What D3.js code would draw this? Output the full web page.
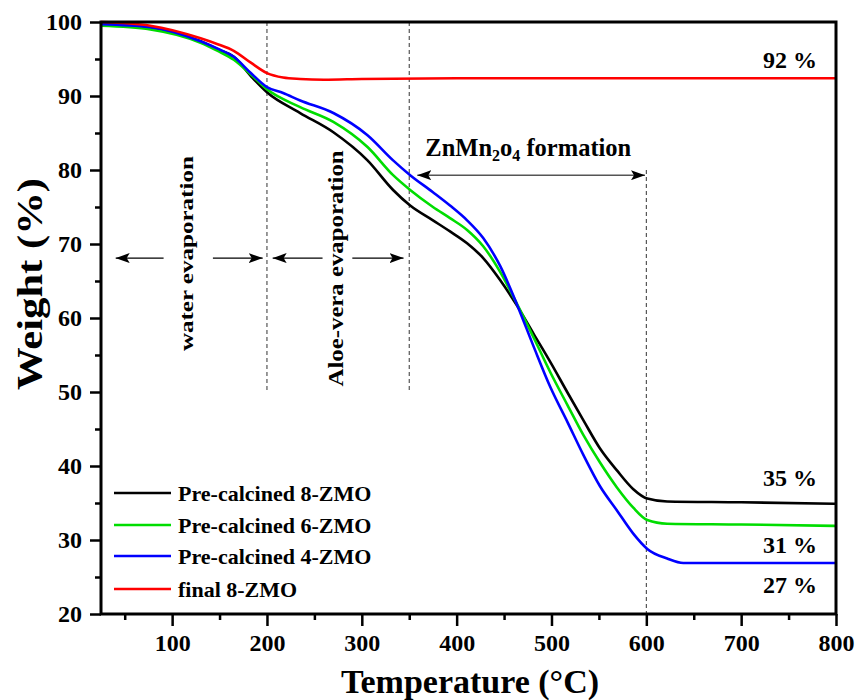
<!DOCTYPE html>
<html>
<head>
<meta charset="utf-8">
<script src="https://cdn.jsdelivr.net/npm/d3@7"></script>
<style>
  body { margin: 0; background: #fff; }
  svg { display: block; font-family: "Liberation Serif", "Times New Roman", serif; font-weight: bold; }
</style>
</head>
<body>
<svg id="chart" width="858" height="700"></svg>
<script>
// ---- data ----
const seriesNames = ["Pre-calcined 8-ZMO", "Pre-calcined 6-ZMO", "Pre-calcined 4-ZMO", "final 8-ZMO"];
const seriesColors = ["#000000", "#00dd00", "#0000ff", "#ff0000"];

const temp8 = [25, 77, 130, 148, 165, 183, 200, 235, 270, 306, 333, 351, 375, 393, 411, 428, 446, 464, 481, 499, 517, 534, 551, 569, 586, 601, 622, 700, 800];
const weight8 = [99.8, 99.2, 97.4, 96.3, 95.3, 92.7, 90.5, 87.7, 85.1, 81.3, 77.3, 75.2, 73.2, 71.7, 70.1, 68.1, 65.1, 61.6, 57.9, 54.0, 49.9, 46.1, 42.4, 39.4, 36.9, 35.6, 35.2, 35.1, 34.9];

const temp6 = [25, 77, 130, 148, 165, 183, 200, 235, 270, 306, 333, 351, 375, 393, 411, 428, 446, 464, 481, 499, 517, 534, 551, 569, 586, 601, 622, 700, 800];
const weight6 = [99.5, 99.0, 97.2, 96.1, 94.9, 92.9, 90.9, 88.5, 86.5, 83.1, 79.3, 77.3, 75.0, 73.5, 71.9, 69.7, 66.2, 61.8, 57.4, 52.6, 48.2, 44.1, 40.5, 37.1, 34.4, 32.7, 32.2, 32.1, 31.9];

const temp4 = [25, 77, 130, 148, 165, 183, 200, 217, 235, 270, 306, 333, 351, 375, 393, 411, 428, 446, 464, 481, 499, 517, 534, 551, 569, 586, 601, 622, 639, 700, 800];
const weight4 = [99.7, 99.3, 97.4, 96.4, 95.3, 93.1, 91.2, 90.4, 89.4, 87.7, 84.7, 81.3, 79.3, 77.0, 75.2, 73.2, 70.8, 67.0, 61.7, 56.2, 50.6, 45.9, 41.4, 37.3, 34.0, 30.9, 28.8, 27.5, 26.9, 26.9, 26.9];

const tempF = [25, 77, 130, 148, 165, 183, 200, 217, 235, 260, 300, 400, 600, 800];
const weightF = [100, 99.5, 97.8, 97.0, 96.1, 94.5, 93.1, 92.5, 92.3, 92.2, 92.3, 92.4, 92.4, 92.4];

const xTicks = [100, 200, 300, 400, 500, 600, 700, 800];
const xMinorTicks = [50, 150, 250, 350, 450, 550, 650, 750];
const yTicks = [20, 30, 40, 50, 60, 70, 80, 90, 100];
const yMinorTicks = [25, 35, 45, 55, 65, 75, 85, 95];

const finalLabels = ["92 %", "35 %", "31 %", "27 %"];
const finalLabelY = [93.8, 37.3, 28.3, 22.9];

// ---- layout ----
const svg = d3.select("#chart");
const L = 101, R = 836, T = 22, B = 614;
const x = d3.scaleLinear().domain([25, 800]).range([L, R]);
const y = d3.scaleLinear().domain([20, 100]).range([B, T]);

const defs = svg.append("defs");
defs.append("marker").attr("id", "ah").attr("viewBox", "0 0 14 10")
  .attr("refX", 14).attr("refY", 5).attr("markerWidth", 14).attr("markerHeight", 10)
  .attr("markerUnits", "userSpaceOnUse").attr("orient", "auto-start-reverse")
  .append("path").attr("d", "M0,0 L14,5 L0,10 L3,5 Z").attr("fill", "#000");

// dashed vertical lines
const dashed = [[200, 100, 50], [350, 100, 50], [600, 80, 20]];
svg.selectAll("line.dash").data(dashed).enter().append("line")
  .attr("x1", d => x(d[0])).attr("x2", d => x(d[0]))
  .attr("y1", d => y(d[1])).attr("y2", d => y(d[2]))
  .attr("stroke", "#333").attr("stroke-width", 1).attr("stroke-dasharray", "4,3");

// arrows
const arrows = [[91, 40.5, 68.1], [143, 195.5, 68.1], [258.6, 206, 68.1], [290, 344, 68.1]];
svg.selectAll("line.arrow").data(arrows).enter().append("line")
  .attr("x1", d => x(d[0])).attr("x2", d => x(d[1]))
  .attr("y1", d => y(d[2])).attr("y2", d => y(d[2]))
  .attr("stroke", "#000").attr("stroke-width", 1.2).attr("marker-end", "url(#ah)");
svg.append("line")
  .attr("x1", x(358.5)).attr("x2", x(598.6)).attr("y1", y(79.3)).attr("y2", y(79.3))
  .attr("stroke", "#555").attr("stroke-width", 1.5)
  .attr("marker-start", "url(#ah)").attr("marker-end", "url(#ah)");

// curves
const line = d3.line().x(d => x(d[0])).y(d => y(d[1])).curve(d3.curveMonotoneX);
const series = [
  d3.zip(temp8, weight8), d3.zip(temp6, weight6), d3.zip(temp4, weight4), d3.zip(tempF, weightF)
];
svg.selectAll("path.curve").data(series).enter().append("path")
  .attr("d", line).attr("fill", "none")
  .attr("stroke", (d, i) => seriesColors[i]).attr("stroke-width", 2.6);

// axes
svg.append("g").attr("transform", `translate(0,${B})`)
  .call(d3.axisBottom(x).tickValues(xTicks).tickSize(12).tickPadding(8).tickFormat(d3.format("d")));
svg.append("g").attr("transform", `translate(0,${B})`)
  .call(d3.axisBottom(x).tickValues(xMinorTicks).tickSize(6).tickFormat(""));
svg.append("g").attr("transform", `translate(${L},0)`)
  .call(d3.axisLeft(y).tickValues(yTicks).tickSize(11).tickPadding(8).tickFormat(d3.format("d")));
svg.append("g").attr("transform", `translate(${L},0)`)
  .call(d3.axisLeft(y).tickValues(yMinorTicks).tickSize(6).tickFormat(""));
svg.selectAll(".tick line").attr("stroke", "#000").attr("stroke-width", 2.5);
svg.selectAll(".domain").remove();
svg.selectAll(".tick text").attr("font-family", "Liberation Serif").attr("font-weight", "bold")
  .attr("font-size", 24).attr("fill", "#000");

// frame
svg.append("rect").attr("x", L).attr("y", T).attr("width", R - L).attr("height", B - T)
  .attr("fill", "none").attr("stroke", "#000").attr("stroke-width", 3);

// axis titles
svg.append("text").attr("x", 470).attr("y", 693).attr("text-anchor", "middle")
  .attr("font-size", 34).text("Temperature (°C)");
svg.append("text").attr("transform", `translate(42,284) rotate(-90)`)
  .attr("text-anchor", "middle").attr("font-size", 35)
  .attr("textLength", 212).attr("lengthAdjust", "spacingAndGlyphs").text("Weight (%)");

// region annotations
svg.append("text").attr("transform", `translate(${x(116.5) + 5},${y(68.7)}) rotate(-90)`)
  .attr("text-anchor", "middle").attr("font-size", 19)
  .attr("textLength", 195).attr("lengthAdjust", "spacingAndGlyphs").text("water evaporation");
svg.append("text").attr("transform", `translate(${x(273) + 7},${y(66.7)}) rotate(-90)`)
  .attr("text-anchor", "middle").attr("font-size", 20)
  .attr("textLength", 236).attr("lengthAdjust", "spacingAndGlyphs").text("Aloe-vera evaporation");
const zn = svg.append("text").attr("x", x(367)).attr("y", y(81.9)).attr("font-size", 24.5);
zn.append("tspan").text("ZnMn");
zn.append("tspan").attr("font-size", 16).attr("dy", 5).text("2");
zn.append("tspan").attr("dy", -5).text("o");
zn.append("tspan").attr("font-size", 16).attr("dy", 5).text("4");
zn.append("tspan").attr("dy", -5).text(" formation");

// final percent labels
svg.selectAll("text.pct").data(finalLabels).enter().append("text")
  .attr("x", x(780)).attr("y", (d, i) => y(finalLabelY[i]))
  .attr("text-anchor", "end").attr("font-size", 24).text(d => d);

// legend
const legY = [493, 525, 556, 589];
const leg = svg.selectAll("g.leg").data(seriesNames).enter().append("g")
  .attr("transform", (d, i) => `translate(114,${legY[i]})`);
leg.append("line").attr("x1", 0).attr("x2", 57).attr("stroke", (d, i) => seriesColors[i]).attr("stroke-width", 2.6);
leg.append("text").attr("x", 64).attr("y", 8).attr("font-size", 22).text(d => d);
</script>
</body>
</html>
